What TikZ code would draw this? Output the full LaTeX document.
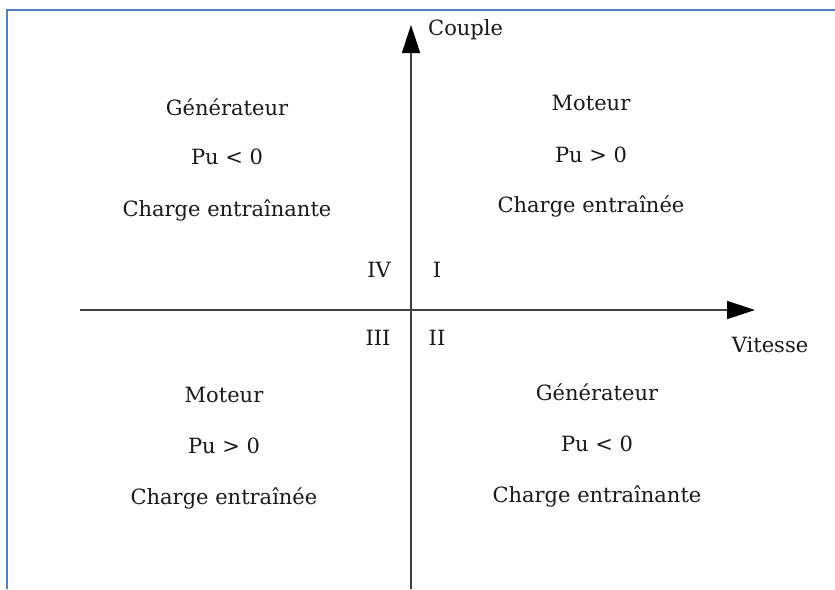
\documentclass[tikz,border=0pt]{standalone}
\usepackage{fontspec}
\setmainfont{DejaVu Serif}
\usetikzlibrary{arrows.meta}
\definecolor{frameblue}{HTML}{4F81BD}
\definecolor{axisgray}{HTML}{404040}
\begin{document}
\begin{tikzpicture}[x=1pt,y=-1pt,
  lbl/.style={font=\fontsize{21}{24}\selectfont, text=black!90, inner sep=0pt, anchor=center},
  axis/.style={draw=axisgray, line width=1.6pt, -{Triangle[length=28pt,width=18pt,color=black,fill=black]}}]
\useasboundingbox (0,0) rectangle (835,589);
\fill[white] (0,0) rectangle (835,589);
\draw[frameblue, line width=1.8pt] (7,589) -- (7,10) -- (835,10);
% axes
\coordinate (xs) at (80,310);
\coordinate (xe) at (755,310);
\coordinate (ys) at (411,589);
\coordinate (ye) at (411,25);
\draw[axis] (xs) -- (xe);
\draw[axis] (ys) -- (ye);
\node[lbl, anchor=west] (couple) at (428,30) {Couple};
\node[lbl] (vitesse) at (770,345) {Vitesse};
% quadrant numbers
\node[lbl] (q4) at (379,270) {IV};
\node[lbl] (q1) at (437,270) {I};
\node[lbl] (q3) at (378,338) {III};
\node[lbl] (q2) at (437,338) {II};
% top-left
\node[lbl] (tl1) at (227,107) {Générateur};
\node[lbl] (tl2) at (227,157) {Pu < 0};
\node[lbl] (tl3) at (227,210) {Charge entraînante};
% top-right
\node[lbl] (tr1) at (591,103) {Moteur};
\node[lbl] (tr2) at (591,155) {Pu > 0};
\node[lbl] (tr3) at (591,206) {Charge entraînée};
% bottom-left
\node[lbl] (bl1) at (224,395) {Moteur};
\node[lbl] (bl2) at (224,446) {Pu > 0};
\node[lbl] (bl3) at (224,498) {Charge entraînée};
% bottom-right
\node[lbl] (br1) at (597,392) {Générateur};
\node[lbl] (br2) at (597,444) {Pu < 0};
\node[lbl] (br3) at (597,496) {Charge entraînante};
\end{tikzpicture}
\end{document}
